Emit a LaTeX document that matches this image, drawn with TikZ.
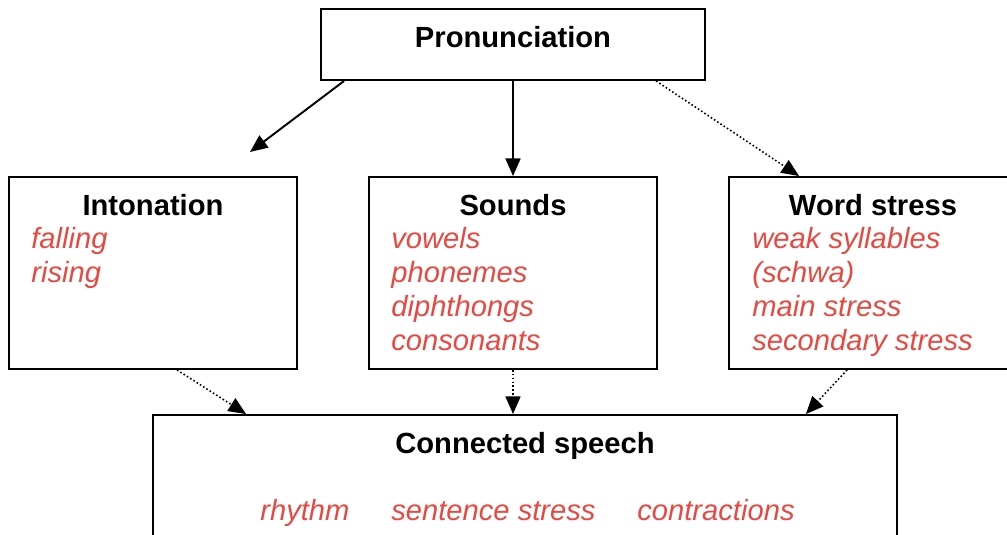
\documentclass[tikz,border=0pt]{standalone}
\usepackage{fontspec}
\setmainfont{Liberation Sans}
\usetikzlibrary{arrows.meta,calc}
\definecolor{itemred}{RGB}{232,72,64}
\tikzset{
  box/.style={draw, line width=1.1pt, rectangle, inner sep=0pt},
  title/.style={font=\fontsize{16.6}{19.4}\selectfont\bfseries, anchor=base, inner sep=0pt},
  item/.style={font=\fontsize{16.6}{19.4}\selectfont\itshape, text=itemred, anchor=base west, inner sep=0pt},
  solidarrow/.style={line width=1.1pt, -{Triangle[length=10pt,width=8.5pt]}},
  dotarrow/.style={line width=0.9pt, dash pattern=on 0.9pt off 1.3pt, -{Triangle[length=10pt,width=8.5pt]}}
}
\begin{document}
\begin{tikzpicture}[x=0.02cm,y=-0.02cm]
    \useasboundingbox (0,0) rectangle (1007,534);
    \clip (0,0) rectangle (1007,534);
    % boxes
    \node[box, minimum width=7.68cm, minimum height=1.42cm] (prn) at (513,44.5) {};
    \node[box, minimum width=5.76cm, minimum height=3.84cm] (inton) at (153,273) {};
    \node[box, minimum width=5.76cm, minimum height=3.84cm] (snds) at (513,273) {};
    \node[box, minimum width=5.62cm, minimum height=3.84cm] (wstress) at (869.5,273) {};
    \node[box, minimum width=14.88cm, minimum height=2.44cm] (conn) at (525,476) {};
    % titles
    \node[title] (prn-t) at (513,47) {Pronunciation};
    \node[title] (inton-t) at (153,215) {Intonation};
    \node[title] (snds-t) at (513,215) {Sounds};
    \node[title] (wstress-t) at (873,215) {Word stress};
    \node[title] (conn-t) at (525,453) {Connected speech};
    % items
    \foreach \txt [count=\i] in {falling,rising}
    {
            \node[item] (inton-\i) at (31,214+34*\i) {\txt};
    }
    \foreach \txt [count=\i] in {vowels,phonemes,diphthongs,consonants}
    {
            \node[item] (snds-\i) at (391,214+34*\i) {\txt};
    }
    \foreach \txt [count=\i] in {weak syllables,{(schwa)},main stress,secondary stress}
    {
            \node[item] (wstress-\i) at (752,214+34*\i) {\txt};
    }
    \node[item] (conn-1) at (260,520) {rhythm};
    \node[item] (conn-2) at (391,520) {sentence stress};
    \node[item] (conn-3) at (637,520) {contractions};
    % arrows
    \coordinate (left-end) at (250,152);
    \draw[solidarrow] ($(prn.south west)+(24,0)$) -- (left-end);
    \draw[solidarrow] (prn.south) -- (snds.north);
    \draw[dotarrow] ($(prn.south west)+(336,0)$) -- ($(wstress.north west)+(71,0)$);
    \draw[dotarrow] ($(inton.south west)+(169,0)$) -- ($(conn.north west)+(94,0)$);
    \draw[dotarrow] (snds.south) -- (snds.south |- conn.north);
    \draw[dotarrow] ($(wstress.south west)+(119,0)$) -- ($(conn.north east)+(-92,0)$);
\end{tikzpicture}
\end{document}
